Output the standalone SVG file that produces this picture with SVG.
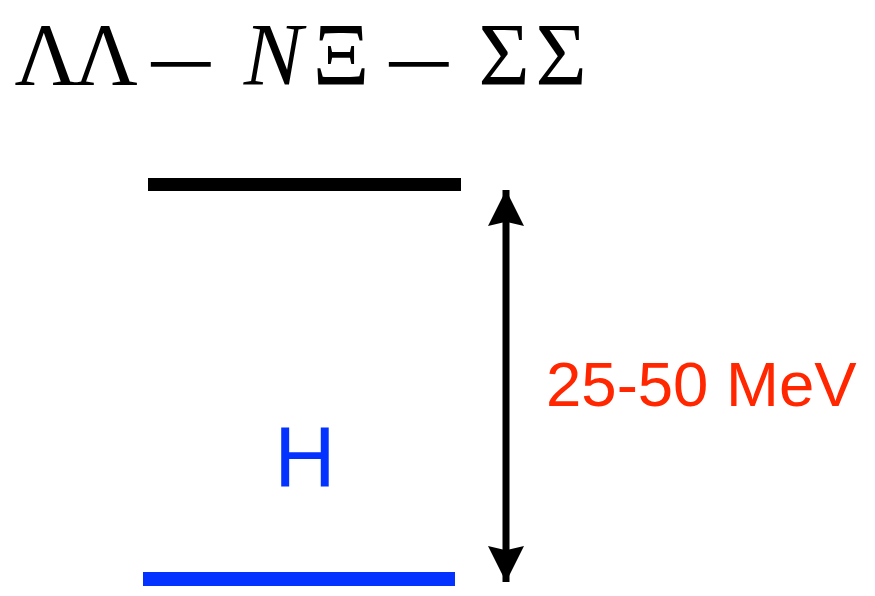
<svg xmlns="http://www.w3.org/2000/svg" width="875" height="596" viewBox="0 0 875 596">
<style>
.title{font-family:"Liberation Serif","DejaVu Serif",serif;font-size:88px;fill:#000;text-anchor:middle}
.minus{font-family:"Liberation Serif","DejaVu Serif",serif;font-size:92px;fill:#000;text-anchor:middle}
.it{font-style:italic}
.lbl{font-family:"Liberation Sans",Arial,sans-serif}
</style>
<defs>
<marker id="ah" viewBox="0 0 10 10" refX="10" refY="5" markerWidth="36" markerHeight="36" markerUnits="userSpaceOnUse" orient="auto-start-reverse">
<path d="M0,0 L10,5 L0,10 L1.2,5 Z" fill="#000"/>
</marker>
</defs>
<rect width="875" height="596" fill="#fff"/>
<g id="title">
<text class="title" x="46.5" y="84">Λ</text>
<text class="title" x="106" y="84">Λ</text>
<text class="minus" transform="translate(181,95) scale(1.4,1)" x="0" y="0">−</text>
<text class="title it" x="273" y="84">N</text>
<text class="title" x="341" y="84">Ξ</text>
<text class="minus" transform="translate(419,95) scale(1.4,1)" x="0" y="0">−</text>
<text class="title" x="504" y="84">Σ</text>
<text class="title" x="561" y="84">Σ</text>
</g>
<g id="upper-level">
<rect x="148" y="178" width="313" height="13" fill="#000"/>
</g>
<g id="lower-level">
<rect x="143" y="572" width="312" height="14" fill="#0433FF"/>
<text class="lbl" x="305" y="486" font-size="85" fill="#0433FF" text-anchor="middle">H</text>
</g>
<g id="connectors">
<line x1="506" y1="190" x2="506" y2="582" stroke="#000" stroke-width="7" marker-start="url(#ah)" marker-end="url(#ah)"/>
</g>
<g id="gap-label">
<text class="lbl" x="546" y="406" font-size="63.5" fill="#FF2600">25-50 MeV</text>
</g>
</svg>
